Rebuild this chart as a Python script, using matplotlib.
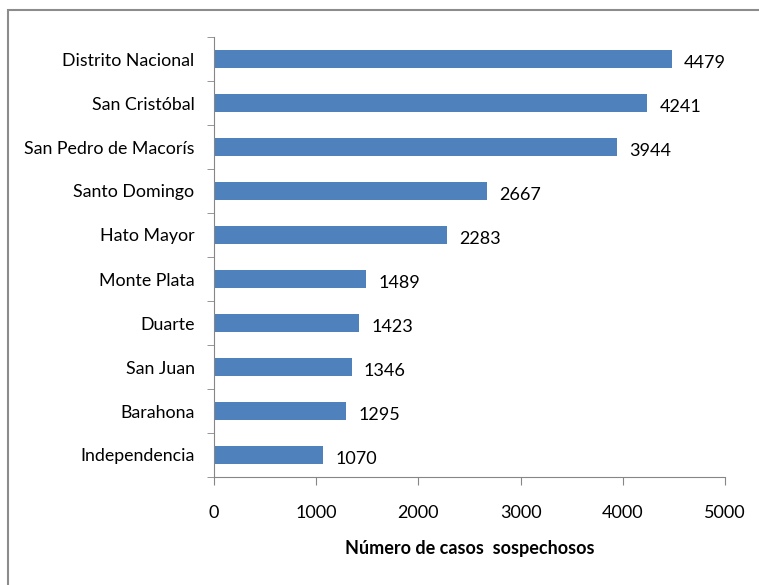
import matplotlib.pyplot as plt
from matplotlib.patches import Rectangle

provincias = ["Distrito Nacional", "San Cristóbal", "San Pedro de Macorís",
              "Santo Domingo", "Hato Mayor", "Monte Plata", "Duarte",
              "San Juan", "Barahona", "Independencia"]
casos = [4479, 4241, 3944, 2667, 2283, 1489, 1423, 1346, 1295, 1070]

plt.rcParams['font.family'] = ['Lato', 'DejaVu Sans']

W, H = 759, 585
fig = plt.figure(figsize=(W / 100, H / 100), dpi=100)
# marco exterior (solo se ve izquierda y arriba)
fig.patches.append(Rectangle((8 / W, -0.02), 1.0, 1.02 - 10 / H, transform=fig.transFigure,
                             fill=False, edgecolor='#8c8c8c', linewidth=1.5))

ax = fig.add_axes([214 / W, 1 - 477 / H, (725 - 214) / W, (477 - 37) / H])
y = list(range(len(provincias)))[::-1]
ax.barh(y, casos, height=0.4, color='#4F81BD')
for yi, v in zip(y, casos):
    ax.text(v + 120, yi - 0.08, str(v), va='center', ha='left', fontsize=13)

ax.set_xlim(0, 5000)
ax.set_ylim(-0.5, len(provincias) - 0.5)
ax.set_xticks(range(0, 5001, 1000))
ax.set_yticks(y)
ax.set_yticklabels(provincias, fontsize=12.8)
ax.set_yticks([i - 0.5 for i in range(len(provincias) + 1)], minor=True)
ax.tick_params(axis='y', which='major', length=0, pad=14)
ax.tick_params(axis='y', which='minor', length=5, color='#868686', direction='out')
ax.tick_params(axis='x', length=6, color='#868686', labelsize=13, pad=14)
for s in ['top', 'right']:
    ax.spines[s].set_visible(False)
for s in ['left', 'bottom']:
    ax.spines[s].set_color('#868686')
ax.set_xlabel("Número de casos  sospechosos", fontsize=13, fontweight='bold', labelpad=14)

fig.savefig("out.png", dpi=100)
